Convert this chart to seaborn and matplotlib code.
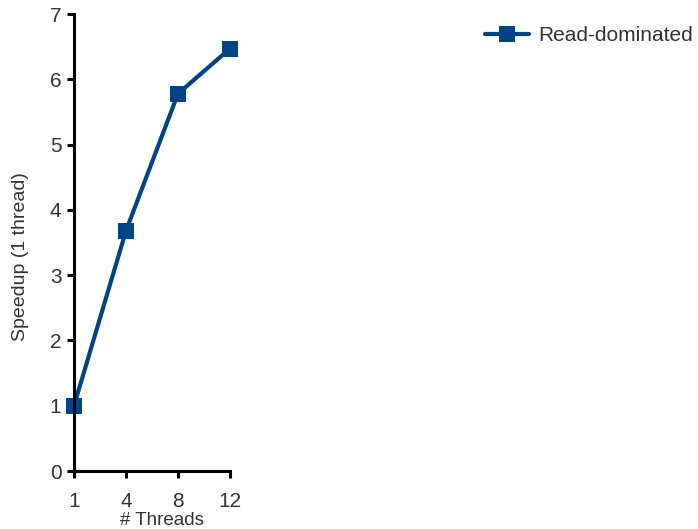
import matplotlib
matplotlib.use("Agg")
import matplotlib.pyplot as plt
import seaborn as sns
import pandas as pd

threads = ["1", "4", "8", "12"]
speedup = [1.0, 3.68, 5.78, 6.47]
series_name = "Read-dominated"

sns.set_theme(style="ticks")
plt.rcParams["font.family"] = ["Liberation Sans", "DejaVu Sans"]
text_color = "#333333"

df = pd.DataFrame({"# Threads": threads, "Speedup": speedup, "series": series_name})

fig = plt.figure(figsize=(6.98, 5.29), dpi=100)
ax = fig.add_axes([0.106, 0.1096, 0.2235, 0.8639])

sns.lineplot(data=df, x="# Threads", y="Speedup", hue="series",
             palette=["#004488"], marker="s", markersize=12, linewidth=3,
             markeredgewidth=0, ax=ax, sort=False)
for ln in ax.lines:
    ln.set_clip_on(False)

ax.set_xlim(0, 3)
ax.set_ylim(0, 7)
ax.set_yticks(range(0, 8))
ax.set_xlabel("# Threads", fontsize=13.5, color=text_color, labelpad=1, x=0.564)
ax.set_ylabel("Speedup (1 thread)", fontsize=14, color=text_color)
ax.yaxis.set_label_coords(-0.29, 0.47)
ax.tick_params(axis="both", labelsize=15, colors="black", labelcolor=text_color,
               width=2.2, length=5, direction="out")
ax.tick_params(axis="x", pad=10)
ax.tick_params(axis="y", pad=4)
for side in ["left", "bottom"]:
    ax.spines[side].set_linewidth(2.2)
    ax.spines[side].set_color("black")
sns.despine(ax=ax)

leg = ax.legend(loc="upper right", bbox_to_anchor=(0.993, 0.951),
                bbox_transform=fig.transFigure, frameon=False,
                fontsize=15, handlelength=2.1, handletextpad=0.45,
                borderaxespad=0, borderpad=0)
for t in leg.get_texts():
    t.set_color(text_color)

fig.savefig("out.png", dpi=100)
